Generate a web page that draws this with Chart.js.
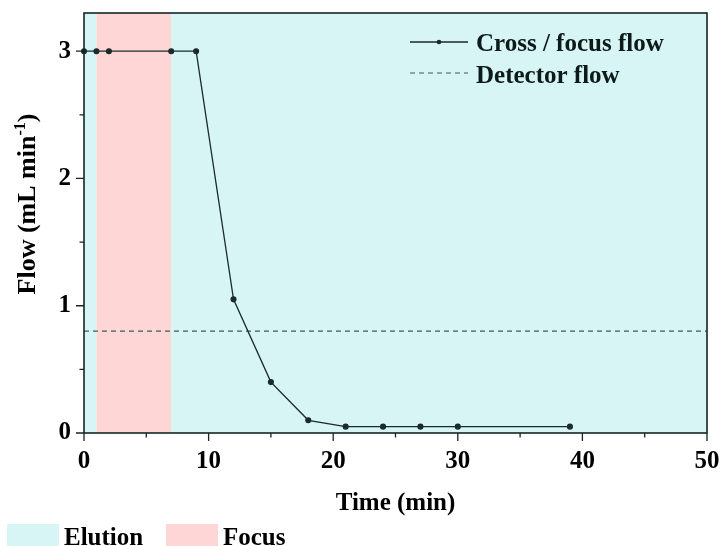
<!DOCTYPE html>
<html>
<head>
<meta charset="utf-8">
<script src="https://cdn.jsdelivr.net/npm/chart.js@4.4.1/dist/chart.umd.min.js"></script>
<style>
  html, body { margin: 0; padding: 0; background: #ffffff; }
  #wrap { position: relative; width: 722px; height: 546px; }
  canvas { display: block; }
</style>
</head>
<body>
<div id="wrap"><canvas id="c" width="722" height="546"></canvas></div>
<script>
// ---- data ----
const timeMin = [0, 1, 2, 7, 9, 12, 15, 18, 21, 24, 27, 30, 39];
const crossFocusFlow = [3, 3, 3, 3, 3, 1.05, 0.40, 0.10, 0.05, 0.05, 0.05, 0.05, 0.05];
const detectorTime = [0, 50];
const detectorFlow = [0.8, 0.8];
const phaseStart = [0, 1, 7];
const phaseEnd = [1, 7, 50];
const phaseName = ['Elution', 'Focus', 'Elution'];
const legendPhases = ['Elution', 'Focus'];
const seriesNames = ['Cross / focus flow', 'Detector flow'];
const xTickValues = [0, 10, 20, 30, 40, 50];
const yTickValues = [0, 1, 2, 3];
const xTitle = 'Time (min)';
const yTitleMain = 'Flow (mL min';
const yTitleSup = '-1';
const yTitleEnd = ')';

const FONT = '"Liberation Serif", "Times New Roman", serif';
const phaseColor = { 'Elution': 'rgb(214,245,244)', 'Focus': 'rgb(255,214,214)' };
const lineColor = '#1b2a2a';
const dashColor = '#3f5a5a';
const frameColor = '#142626';

const pts = timeMin.map((t, i) => ({ x: t, y: crossFocusFlow[i] }));
const det = detectorTime.map((t, i) => ({ x: t, y: detectorFlow[i] }));

function noScalePadding(s) {
  s.paddingLeft = 0; s.paddingRight = 0; s.paddingTop = 0; s.paddingBottom = 0;
}

const decor = {
  id: 'decor',
  beforeDatasetsDraw(chart) {
    const { ctx, chartArea: a, scales: { x } } = chart;
    ctx.save();
    for (let i = 0; i < phaseStart.length; i++) {
      const x0 = x.getPixelForValue(phaseStart[i]);
      const x1 = x.getPixelForValue(phaseEnd[i]);
      ctx.fillStyle = phaseColor[phaseName[i]];
      ctx.fillRect(x0, a.top, x1 - x0, a.bottom - a.top);
    }
    ctx.restore();
  },
  afterDraw(chart) {
    const { ctx, chartArea: a, scales: { x, y } } = chart;
    ctx.save();
    // frame
    ctx.strokeStyle = frameColor;
    ctx.lineWidth = 1.6;
    ctx.strokeRect(a.left, a.top, a.right - a.left, a.bottom - a.top);
    // ticks
    ctx.lineWidth = 1.3;
    ctx.beginPath();
    x.ticks.forEach(t => {
      const px = x.getPixelForValue(t.value);
      const major = xTickValues.includes(t.value);
      ctx.moveTo(px, a.bottom);
      ctx.lineTo(px, a.bottom + (major ? 8 : 4.5));
    });
    y.ticks.forEach(t => {
      const py = y.getPixelForValue(t.value);
      const major = yTickValues.includes(t.value);
      ctx.moveTo(a.left, py);
      ctx.lineTo(a.left - (major ? 8 : 4.5), py);
    });
    ctx.stroke();

    // x title
    ctx.fillStyle = '#000';
    ctx.font = 'bold 25px ' + FONT;
    ctx.textAlign = 'center';
    ctx.textBaseline = 'alphabetic';
    ctx.fillText(xTitle, (a.left + a.right) / 2, 510);

    // y title (rotated, with superscript)
    const mainFont = 'bold 26px ' + FONT;
    const supFont = 'bold 16px ' + FONT;
    ctx.font = mainFont; const w1 = ctx.measureText(yTitleMain).width; const w3 = ctx.measureText(yTitleEnd).width;
    ctx.font = supFont; const w2 = ctx.measureText(yTitleSup).width;
    const total = w1 + w2 + w3;
    ctx.translate(35, 204);
    ctx.rotate(-Math.PI / 2);
    ctx.textAlign = 'left';
    let cx = -total / 2;
    ctx.font = mainFont; ctx.fillText(yTitleMain, cx, 0); cx += w1;
    ctx.font = supFont; ctx.fillText(yTitleSup, cx, -10); cx += w2;
    ctx.font = mainFont; ctx.fillText(yTitleEnd, cx, 0);
    ctx.setTransform(1, 0, 0, 1, 0, 0);

    // in-plot legend
    ctx.font = 'bold 25px ' + FONT;
    ctx.textAlign = 'left';
    ctx.textBaseline = 'alphabetic';
    ctx.strokeStyle = lineColor; ctx.lineWidth = 1.4; ctx.setLineDash([]);
    ctx.beginPath(); ctx.moveTo(410, 42); ctx.lineTo(468, 42); ctx.stroke();
    ctx.fillStyle = lineColor; ctx.beginPath(); ctx.arc(439, 42, 2.3, 0, Math.PI * 2); ctx.fill();
    ctx.fillStyle = '#0c1a1a';
    ctx.fillText(seriesNames[0], 476, 51);
    ctx.strokeStyle = dashColor; ctx.lineWidth = 1.2; ctx.setLineDash([5, 4]);
    ctx.beginPath(); ctx.moveTo(410, 73); ctx.lineTo(468, 73); ctx.stroke();
    ctx.setLineDash([]);
    ctx.fillText(seriesNames[1], 476, 83);

    // bottom phase legend
    const boxX = [7, 166];
    legendPhases.forEach((name, i) => {
      ctx.fillStyle = phaseColor[name];
      ctx.fillRect(boxX[i], 524, 52, 24);
      ctx.fillStyle = '#000';
      ctx.fillText(name, boxX[i] + 57, 545);
    });
    ctx.restore();
  }
};

new Chart(document.getElementById('c'), {
  type: 'scatter',
  data: {
    datasets: [
      {
        label: seriesNames[0],
        data: pts,
        showLine: true,
        borderColor: lineColor,
        backgroundColor: lineColor,
        borderWidth: 1.3,
        pointRadius: 2.4,
        pointHoverRadius: 2.4,
        clip: 5
      },
      {
        label: seriesNames[1],
        data: det,
        showLine: true,
        borderColor: dashColor,
        borderWidth: 1.2,
        borderDash: [5, 4],
        pointRadius: 0,
        clip: 0
      }
    ]
  },
  options: {
    responsive: false,
    animation: false,
    events: [],
    layout: { padding: { left: 0, top: 13, right: 15, bottom: 0 } },
    plugins: { legend: { display: false }, tooltip: { enabled: false } },
    scales: {
      x: {
        type: 'linear', min: 0, max: 50,
        grid: { display: false, drawTicks: true, tickLength: 8 },
        border: { display: false },
        ticks: {
          stepSize: 5, includeBounds: false, autoSkip: false, maxRotation: 0,
          padding: 6, color: '#000', font: { family: FONT, size: 25, weight: 'bold' },
          callback: v => xTickValues.includes(v) ? String(v) : ''
        },
        afterFit: s => { s.height = 113; noScalePadding(s); }
      },
      y: {
        type: 'linear', min: 0, max: 3.3,
        grid: { display: false, drawTicks: true, tickLength: 8 },
        border: { display: false },
        ticks: {
          stepSize: 0.5, includeBounds: false, autoSkip: false,
          padding: 5, color: '#000', font: { family: FONT, size: 25, weight: 'bold' },
          callback: v => yTickValues.includes(v) ? String(v) : ''
        },
        afterFit: s => { s.width = 84; noScalePadding(s); }
      }
    }
  },
  plugins: [decor]
});
</script>
</body>
</html>
